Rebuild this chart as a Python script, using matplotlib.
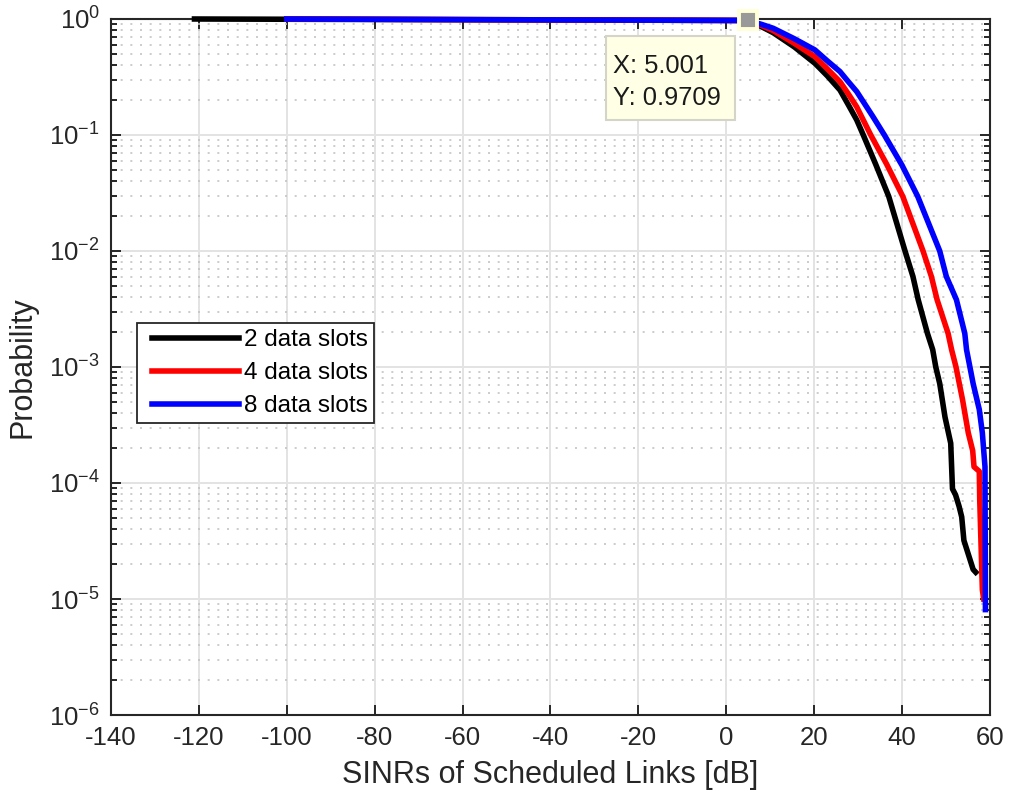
import numpy as np
import matplotlib
matplotlib.use("Agg")
import matplotlib.pyplot as plt
import matplotlib.patches as mpatches
from matplotlib.lines import Line2D
from matplotlib.legend_handler import HandlerLine2D
from matplotlib.ticker import LogLocator, MultipleLocator, NullFormatter

plt.rcParams["font.family"] = ["Liberation Sans", "DejaVu Sans"]
plt.rcParams["mathtext.default"] = "regular"
plt.rcParams["axes.unicode_minus"] = False

# CCDF of SINR for each number of data slots
x_2slots = [-121, 5.0, 8.0, 10.7, 15.5, 20.2, 23.0, 25.9, 27.8, 29.7, 31.2,
            34.0, 37.0, 40.7, 42.5, 43.7, 45.8, 47.0, 47.7, 48.6, 49.8, 51.1,
            51.5, 52.2, 53.0, 53.6, 54.1, 56.2, 56.8]
y_2slots = [1.0, 0.9709, 0.86, 0.762, 0.575, 0.415, 0.324, 0.244, 0.182,
            0.135, 0.1, 0.0562, 0.0295, 0.01, 0.00603, 0.0038, 0.00195,
            0.00141, 0.001, 7.2e-4, 3.7e-4, 2.2e-4, 8.9e-5, 7.9e-5, 6.3e-5,
            5.1e-5, 3.2e-5, 1.8e-5, 1.7e-5]

x_4slots = [-100, 5.0, 8.0, 10.7, 15.5, 20.2, 23.0, 25.9, 27.8, 29.7, 32.9,
            36.5, 40.2, 44.8, 46.7, 48.0, 50.5, 51.3, 52.3, 53.8, 55.1, 56.1,
            56.4, 57.6, 57.7, 58.3, 58.6]
y_4slots = [1.0, 0.9709, 0.88, 0.794, 0.617, 0.473, 0.372, 0.288, 0.226,
            0.175, 0.1, 0.0562, 0.0295, 0.01, 0.00603, 0.0038, 0.00195,
            0.00141, 0.001, 5.2e-4, 2.7e-4, 1.9e-4, 1.38e-4, 1.26e-4, 7.2e-5,
            1.2e-5, 1.0e-5]

x_8slots = [-100, 5.0, 8.0, 10.7, 15.5, 20.2, 23.0, 25.9, 27.8, 29.7, 33.4,
            36.0, 40.0, 43.6, 48.6, 50.1, 52.4, 54.3, 54.7, 56.2, 57.6, 58.3,
            58.9, 59.0]
y_8slots = [1.0, 0.9709, 0.90, 0.832, 0.676, 0.541, 0.436, 0.352, 0.288,
            0.237, 0.144, 0.1, 0.055, 0.0295, 0.01, 0.00603, 0.0038, 0.00195,
            0.00141, 7.2e-4, 4.3e-4, 2.7e-4, 1.38e-4, 8.1e-6]

series = [("2 data slots", x_2slots, y_2slots, "#000000"),
          ("4 data slots", x_4slots, y_4slots, "#FF0000"),
          ("8 data slots", x_8slots, y_8slots, "#0000FF")]

tip_x, tip_y = 5.001, 0.9709

fig = plt.figure(figsize=(10.09, 8.05), dpi=100)
ax = fig.add_axes([0.110, 0.1118, 0.871, 0.8646])

for label, xs, ys, color in series:
    ax.plot(xs, ys, color=color, linewidth=4.0, label=label,
            clip_on=False, zorder=3)

ax.set_yscale("log")
ax.set_xlim(-140, 60)
ax.set_ylim(1e-6, 1)
ax.xaxis.set_major_locator(MultipleLocator(20))
ax.yaxis.set_major_locator(LogLocator(base=10, numticks=10))
ax.yaxis.set_minor_locator(LogLocator(base=10, subs=np.arange(2, 10), numticks=20))
ax.yaxis.set_minor_formatter(NullFormatter())

ax.grid(True, which="major", color="#e3e3e3", linewidth=1.4, linestyle="-", zorder=0)
ax.grid(True, which="minor", axis="y", color="#c4c4c4", linewidth=1.2,
        linestyle=(0, (1.2, 4.6)), zorder=0)
ax.set_axisbelow(True)

for sp in ax.spines.values():
    sp.set_color("#262626")
    sp.set_linewidth(1.5)
ax.tick_params(which="both", direction="in", top=True, right=True,
               color="#262626", width=1.4, labelsize=18.5, labelcolor="#262626")
ax.tick_params(which="major", length=7, pad=8)
ax.tick_params(which="minor", length=4)

ax.set_xlabel("SINRs of Scheduled Links [dB]", fontsize=22, color="#262626", labelpad=7)
ax.set_ylabel("Probability", fontsize=22, color="#262626", labelpad=8)

leg = ax.legend(loc="upper left", bbox_to_anchor=(0.0296, 0.563), borderaxespad=0,
                fontsize=17.5, handlelength=3.95, handletextpad=0.2,
                labelspacing=0.45, borderpad=0.25, fancybox=False, framealpha=1,
                handler_map={Line2D: HandlerLine2D(xpad=0.375)})
leg.get_frame().set_edgecolor("#262626")
leg.get_frame().set_linewidth(1.3)

# data tip
ax.plot([tip_x], [tip_y], marker="s", markersize=13, markerfacecolor="#999999",
        markeredgecolor="#ffffd8", markeredgewidth=2.8, clip_on=False, zorder=5)
tip_box = mpatches.Rectangle((0.5631, 0.8549), 0.1468, 0.1207, transform=ax.transAxes,
                             facecolor="#ffffe6", edgecolor="#d4d4c8",
                             linewidth=1.5, zorder=6)
ax.add_patch(tip_box)
ax.text(0.5711, 0.9224, f"X: {tip_x:.4g}", transform=ax.transAxes, ha="left",
        va="baseline", fontsize=18.4, color="#1a1a1a", zorder=7)
ax.text(0.5711, 0.8764, f"Y: {tip_y:.4f}", transform=ax.transAxes, ha="left",
        va="baseline", fontsize=18.4, color="#1a1a1a", zorder=7)

fig.savefig("out.png", dpi=100)
